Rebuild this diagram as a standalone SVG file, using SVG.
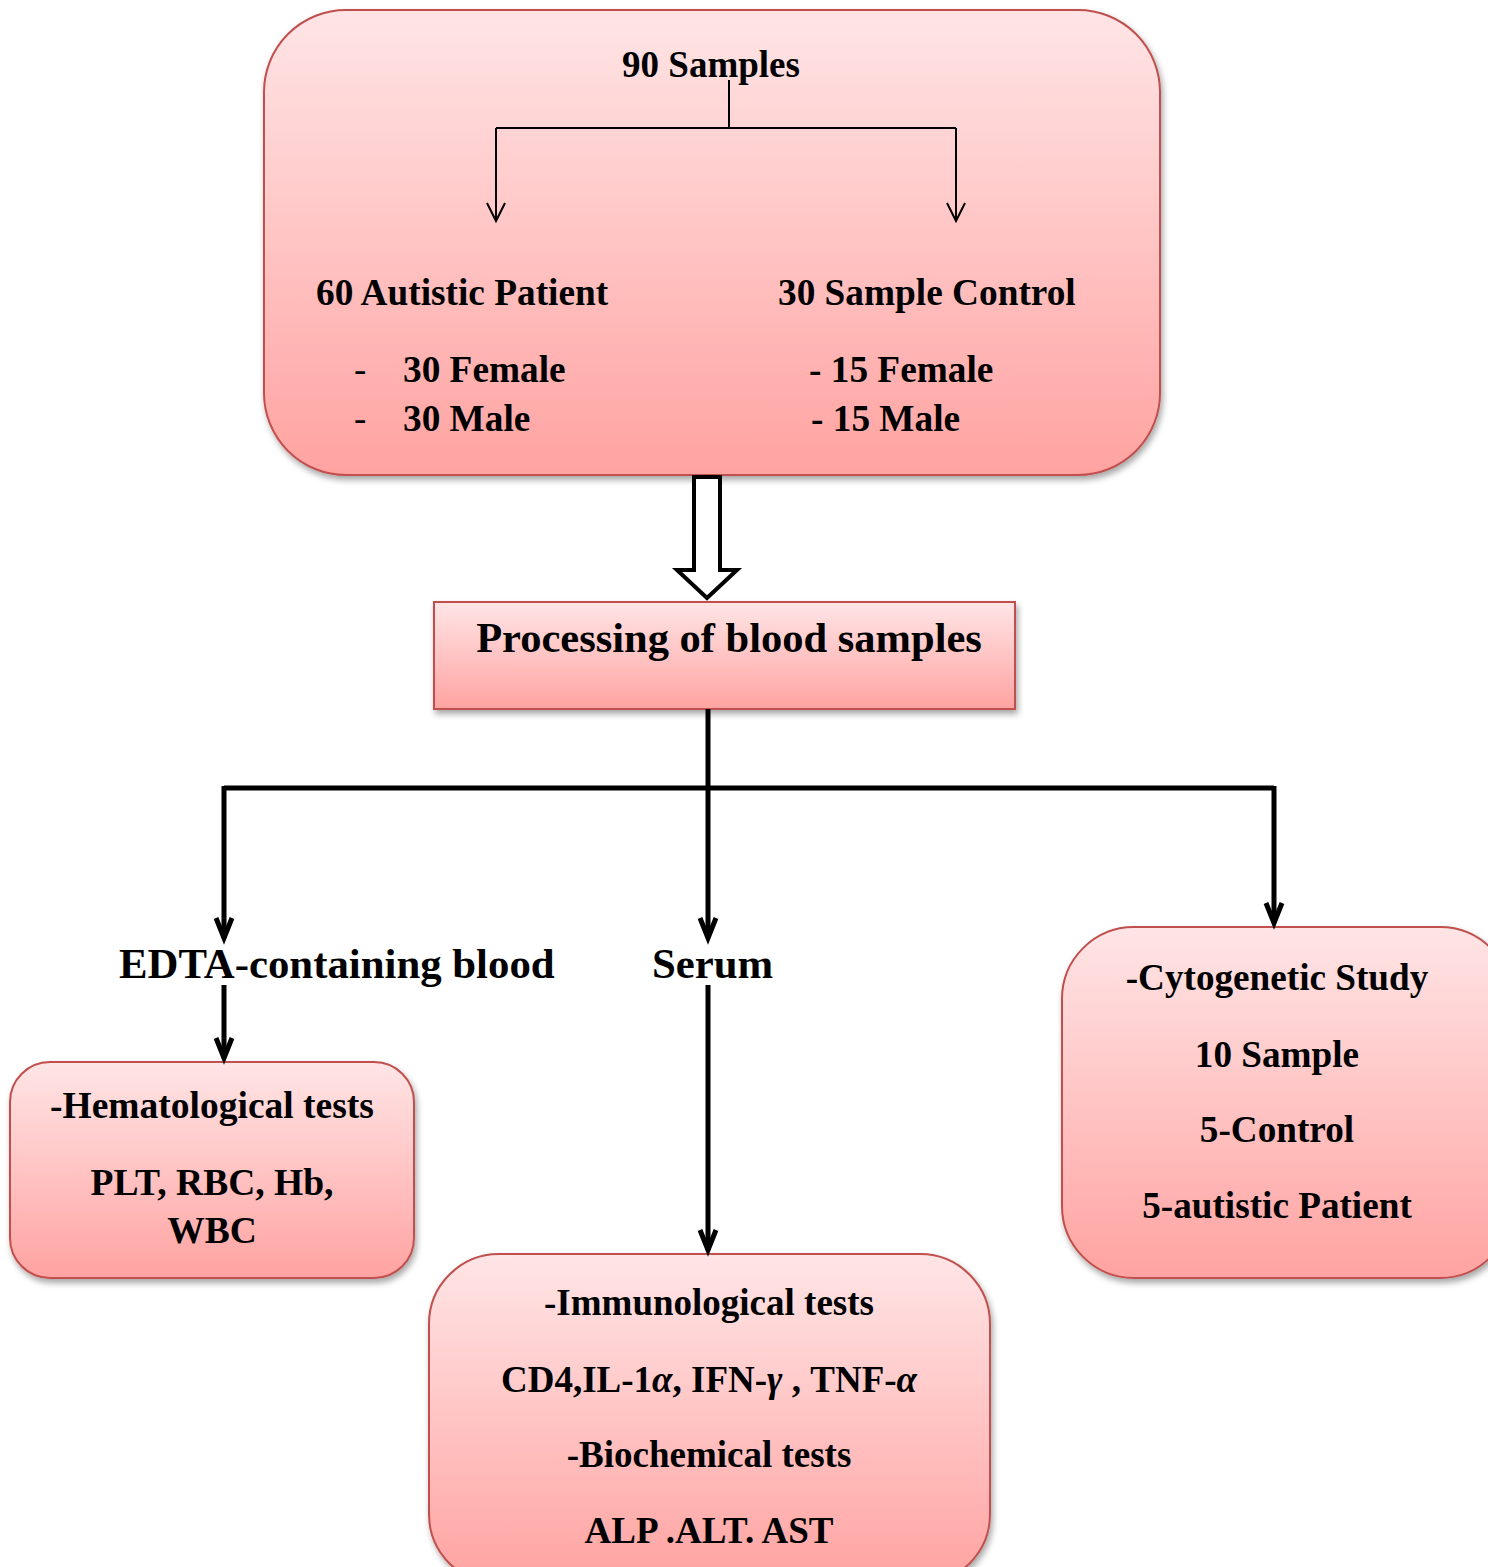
<svg xmlns="http://www.w3.org/2000/svg" width="1488" height="1567" viewBox="0 0 1488 1567">
<style>
text{font-family:"Liberation Serif","Times New Roman",serif;font-weight:bold;fill:#000}
text.n{font-weight:normal}
.box{fill:url(#g);stroke:#C0504D;stroke-width:2;filter:url(#sh)}
.thin{fill:none;stroke:#000;stroke-width:2}
.thick{fill:none;stroke:#000;stroke-width:5}
.c{text-anchor:middle}
</style>
<defs>
<linearGradient id="g" x1="0" y1="0" x2="0" y2="1">
<stop offset="0" stop-color="#FFE5E6"/>
<stop offset="1" stop-color="#FFA3A1"/>
</linearGradient>
<filter id="sh" x="-10%" y="-10%" width="120%" height="125%">
<feDropShadow dx="2" dy="4" stdDeviation="3" flood-color="#000" flood-opacity="0.35"/>
</filter>
<marker id="vthin" markerUnits="userSpaceOnUse" orient="auto" refX="0" refY="0" markerWidth="30" markerHeight="30" overflow="visible">
<path d="M-18,-9 L0,0 L-18,9" fill="none" stroke="#000" stroke-width="2"/>
</marker>
<marker id="vthick" markerUnits="userSpaceOnUse" orient="auto" refX="0" refY="0" markerWidth="30" markerHeight="30" overflow="visible">
<path d="M-20,-8 L0,0 L-20,8" fill="none" stroke="#000" stroke-width="5"/>
</marker>
</defs>

<g id="top">
<rect class="box" x="264" y="10" width="896" height="465" rx="82"/>
<text class="c" x="711" y="77" font-size="37">90 Samples</text>
<text x="316" y="305" font-size="37.3">60 Autistic Patient</text>
<text x="778" y="305" font-size="37.3">30 Sample Control</text>
<text class="n" x="354" y="382" font-size="37">-</text>
<text x="403" y="382" font-size="37.3">30 Female</text>
<text class="n" x="354" y="431" font-size="37">-</text>
<text x="403" y="431" font-size="37.3">30 Male</text>
<text x="809" y="382" font-size="37.3">- 15 Female</text>
<text x="811" y="431" font-size="37.3">- 15 Male</text>
</g>

<g id="processing">
<rect class="box" x="434" y="602" width="581" height="107"/>
<text class="c" x="729" y="652" font-size="42.5">Processing of blood samples</text>
</g>

<g id="edta">
<text x="119" y="978" font-size="42.8">EDTA-containing blood</text>
</g>
<g id="serum">
<text x="652" y="978" font-size="42.8">Serum</text>
</g>

<g id="hemato">
<rect class="box" x="10" y="1062" width="404" height="216" rx="40"/>
<text class="c" x="212" y="1118" font-size="37.5">-Hematological tests</text>
<text class="c" x="212" y="1195" font-size="37.5">PLT, RBC, Hb,</text>
<text class="c" x="212" y="1243" font-size="37.5">WBC</text>
</g>

<g id="immuno">
<rect class="box" x="429" y="1254" width="561" height="330" rx="70"/>
<text class="c" x="709" y="1315" font-size="37">-Immunological tests</text>
<text class="c" x="709" y="1392" font-size="37">CD4,IL-1<tspan font-style="italic">α</tspan>, IFN-<tspan font-style="italic">γ</tspan> , TNF-<tspan font-style="italic">α</tspan></text>
<text class="c" x="709" y="1467" font-size="37">-Biochemical tests</text>
<text class="c" x="709" y="1543" font-size="37">ALP .ALT. AST</text>
</g>

<g id="cyto">
<rect class="box" x="1062" y="927" width="450" height="351" rx="72"/>
<text class="c" x="1277" y="990" font-size="37.2">-Cytogenetic Study</text>
<text class="c" x="1277" y="1067" font-size="37.2">10 Sample</text>
<text class="c" x="1277" y="1142" font-size="37.2">5-Control</text>
<text class="c" x="1277" y="1218" font-size="37.2">5-autistic Patient</text>
</g>

<g id="connectors">
<path class="thin" d="M729,80 V128 M496,128 H956"/>
<path class="thin" d="M496,128 V221" marker-end="url(#vthin)"/>
<path class="thin" d="M956,128 V221" marker-end="url(#vthin)"/>
<path d="M694,477 V570 H677 L707,598 L737,570 H720 V477 Z" fill="#fff" stroke="#000" stroke-width="4" stroke-linejoin="miter"/>
<path class="thick" d="M224,788 H1274"/>
<path class="thick" d="M708,709 V938" marker-end="url(#vthick)"/>
<path class="thick" d="M224,786 V938" marker-end="url(#vthick)"/>
<path class="thick" d="M1274,786 V923" marker-end="url(#vthick)"/>
<path class="thick" d="M224,985 V1058" marker-end="url(#vthick)"/>
<path class="thick" d="M708,985 V1250" marker-end="url(#vthick)"/>
</g>
</svg>
